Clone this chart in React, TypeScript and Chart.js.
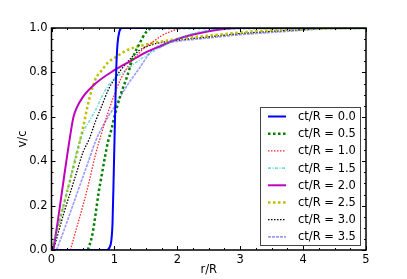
import { useEffect, useRef } from "react";
import { Chart, registerables } from "chart.js";
Chart.register(...registerables);

const xTicks = [0, 1, 2, 3, 4, 5];
const yTicks = [0, 0.2, 0.4, 0.6, 0.8, 1.0];
const seriesLabels = ["ct/R = 0.0", "ct/R = 0.5", "ct/R = 1.0", "ct/R = 1.5", "ct/R = 2.0", "ct/R = 2.5", "ct/R = 3.0", "ct/R = 3.5"];

const r00 = [0, 0.88, 0.92, 0.95, 0.97, 0.99, 1.01, 1.03, 1.05, 1.08, 1.12, 5];
const v00 = [0, 0, 0.01, 0.04, 0.12, 0.35, 0.6, 0.82, 0.93, 0.985, 1.0, 1.0];

const r05 = [0.58, 0.65, 0.7, 0.75, 0.8, 0.85, 0.9, 0.95, 1.0, 1.1, 1.2, 1.3, 1.4, 1.5, 1.6, 5];
const v05 = [0, 0.07, 0.16, 0.26, 0.34, 0.42, 0.49, 0.54, 0.6, 0.7, 0.78, 0.87, 0.93, 0.98, 1.0, 1.0];

const r10 = [0.3, 0.4, 0.5, 0.6, 0.7, 0.8, 0.9, 1.0, 1.1, 1.2, 1.3, 1.4, 1.5, 1.6, 1.75, 1.9, 2.0, 2.1, 5];
const v10 = [0, 0.1, 0.2, 0.31, 0.43, 0.53, 0.62, 0.7, 0.77, 0.82, 0.86, 0.89, 0.915, 0.935, 0.965, 0.985, 0.995, 1.0, 1.0];

const r15 = [0, 0.1, 0.2, 0.3, 0.4, 0.5, 0.6, 0.7, 0.8, 0.9, 1.0, 1.25, 1.5, 1.75, 2.0, 2.25, 2.5, 2.75, 5];
const v15 = [0, 0.1, 0.21, 0.32, 0.44, 0.53, 0.58, 0.63, 0.69, 0.74, 0.77, 0.825, 0.875, 0.915, 0.95, 0.975, 0.99, 1.0, 1.0];

const r20 = [0.03, 0.1, 0.2, 0.3, 0.35, 0.4, 0.5, 0.7, 1.0, 1.25, 1.5, 1.75, 2.0, 2.5, 3.0, 5];
const v20 = [0, 0.13, 0.33, 0.52, 0.6, 0.64, 0.69, 0.75, 0.81, 0.85, 0.89, 0.92, 0.95, 0.985, 1.0, 1.0];

const r25 = [0, 0.1, 0.2, 0.3, 0.4, 0.5, 0.6, 0.7, 0.8, 0.9, 1.0, 1.2, 1.5, 2.0, 2.5, 3.0, 3.5, 4.0, 5];
const v25 = [0, 0.1, 0.21, 0.32, 0.43, 0.55, 0.68, 0.77, 0.81, 0.845, 0.865, 0.9, 0.925, 0.95, 0.965, 0.98, 0.99, 0.995, 1.0];

const r30 = [0.03, 0.1, 0.2, 0.3, 0.4, 0.5, 0.6, 0.7, 0.8, 0.9, 1.0, 1.1, 1.25, 1.4, 1.6, 2.0, 2.5, 3.0, 3.5, 4.0, 4.5, 5];
const v30 = [0, 0.07, 0.17, 0.26, 0.35, 0.44, 0.5, 0.58, 0.65, 0.72, 0.77, 0.81, 0.86, 0.9, 0.925, 0.945, 0.96, 0.975, 0.985, 0.993, 1.0, 1.0];

const r35 = [0.08, 0.2, 0.3, 0.4, 0.5, 0.6, 0.7, 0.8, 0.9, 1.0, 1.2, 1.4, 1.6, 1.75, 2.0, 2.5, 3.0, 3.5, 4.0, 4.5, 5];
const v35 = [0, 0.09, 0.17, 0.25, 0.33, 0.41, 0.49, 0.55, 0.6, 0.645, 0.74, 0.82, 0.9, 0.925, 0.94, 0.955, 0.97, 0.98, 0.99, 1.0, 1.0];

const rs = [r00, r05, r10, r15, r20, r25, r30, r35];
const vs = [v00, v05, v10, v15, v20, v25, v30, v35];

const colors = ["#0000ff", "#008000", "rgba(255,0,0,0.85)", "rgba(0,191,191,0.55)", "#bf00bf", "#bfbf00", "#000000", "rgba(0,0,255,0.4)"];
const widths = [2, 2.5, 1.3, 1.6, 2, 2.5, 1.3, 1.6];
const dashes: number[][] = [[], [2.5, 2.5], [1.5, 1.5], [3, 1.5, 1, 1.5], [], [2.5, 2.5], [1.5, 1.5], [3, 1]];

const FONT = "'DejaVu Sans', sans-serif";

const framePlugin = {
  id: "frame",
  afterDraw(chart: any) {
    const { ctx, chartArea } = chart;
    const { left, right, top, bottom } = chartArea;
    const x = chart.scales.x;
    const y = chart.scales.y;
    ctx.save();
    ctx.strokeStyle = "#000";
    ctx.lineWidth = 1;
    ctx.setLineDash([]);
    const seg = (x1: number, y1: number, x2: number, y2: number) => {
      ctx.beginPath();
      ctx.moveTo(x1, y1);
      ctx.lineTo(x2, y2);
      ctx.stroke();
    };
    for (let i = 0; i <= 20; i++) {
      const px = Math.round(x.getPixelForValue(i * 0.25)) + 0.5;
      const len = i % 4 === 0 ? 4 : 2;
      seg(px, bottom, px, bottom - len);
      seg(px, top, px, top + len);
    }
    for (let i = 0; i <= 20; i++) {
      const py = Math.round(y.getPixelForValue(i * 0.05)) + 0.5;
      const len = i % 4 === 0 ? 4 : 2;
      seg(left, py, left + len, py);
      seg(right, py, right - len, py);
    }
    ctx.lineWidth = 1.5;
    ctx.strokeRect(left, top, right - left, bottom - top);

    // legend
    const bx = 260.5, by = 107.5, bw = 100, bh = 138;
    ctx.fillStyle = "#fff";
    ctx.fillRect(bx, by, bw, bh);
    ctx.lineWidth = 1;
    ctx.strokeStyle = "#444";
    ctx.strokeRect(bx, by, bw, bh);
    ctx.font = "11.5px " + FONT;
    ctx.textBaseline = "middle";
    ctx.textAlign = "left";
    chart.data.datasets.forEach((ds: any, i: number) => {
      const ly = 116.5 + i * 17.2;
      ctx.save();
      ctx.strokeStyle = ds.borderColor;
      ctx.lineWidth = ds.borderWidth;
      ctx.setLineDash(ds.borderDash || []);
      seg(268, ly, 286, ly);
      ctx.restore();
      ctx.fillStyle = "#000";
      ctx.fillText(ds.label, 298, ly + 0.5);
    });
    ctx.restore();
  },
};

export default function App() {
  const ref = useRef<HTMLCanvasElement>(null);
  useEffect(() => {
    document.body.style.margin = "0";
    const canvas = ref.current!;
    const datasets = rs.map((r, i) => ({
      label: seriesLabels[i],
      data: r.map((xv, j) => ({ x: xv, y: vs[i][j] })),
      borderColor: colors[i],
      backgroundColor: colors[i],
      borderWidth: widths[i],
      borderDash: dashes[i],
      pointRadius: 0,
      showLine: true,
      fill: false,
      cubicInterpolationMode: "monotone" as const,
    }));
    const chart = new Chart(canvas, {
      type: "scatter",
      data: { datasets },
      options: {
        animation: false,
        responsive: false,
        maintainAspectRatio: false,
        layout: { padding: { top: 28, right: 41, left: 0, bottom: 0 } },
        plugins: { legend: { display: false }, tooltip: { enabled: false } },
        scales: {
          x: {
            type: "linear",
            min: 0,
            max: 5,
            afterBuildTicks: (s: any) => { s.ticks = xTicks.map((v) => ({ value: v })); },
            afterFit: (s: any) => { s.height = 29; },
            ticks: { font: { family: FONT, size: 11.5 }, color: "#000", padding: 3, maxRotation: 0, callback: (v: any) => String(v) },
            grid: { display: false, drawTicks: false },
            border: { display: false },
            title: { display: true, text: "r/R", font: { family: FONT, size: 11.5 }, color: "#000", padding: { top: 0, bottom: 2 } },
          },
          y: {
            type: "linear",
            min: 0,
            max: 1,
            afterBuildTicks: (s: any) => { s.ticks = yTicks.map((v) => ({ value: v })); },
            afterFit: (s: any) => { s.width = 51.5; },
            ticks: { font: { family: FONT, size: 11.5 }, color: "#000", padding: 4, callback: (v: any) => Number(v).toFixed(1) },
            grid: { display: false, drawTicks: false },
            border: { display: false },
            title: { display: true, text: "v/c", font: { family: FONT, size: 11.5 }, color: "#000", padding: { top: 16, bottom: 0 } },
          },
        },
      },
      plugins: [framePlugin],
    });
    return () => chart.destroy();
  }, []);
  return (
    <div style={{ width: 407, height: 279 }}>
      <canvas ref={ref} width={407} height={279} style={{ width: 407, height: 279, display: "block" }} />
    </div>
  );
}
